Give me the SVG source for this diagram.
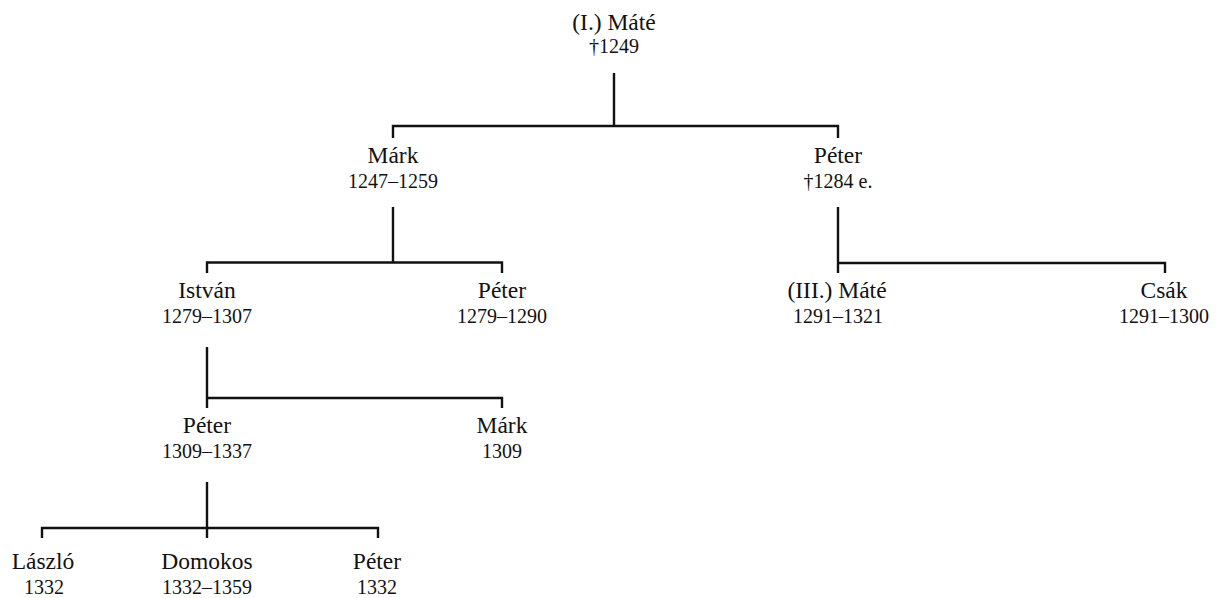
<svg xmlns="http://www.w3.org/2000/svg" width="1222" height="598" viewBox="0 0 1222 598">
<style>
text{fill:#111;text-anchor:middle;font-family:"Liberation Serif","Times New Roman",serif}
.n{font-size:23.5px}
.d{font-size:20px}
.c{fill:none;stroke:#111;stroke-width:2.4;stroke-linecap:butt}
</style>
<rect width="1222" height="598" fill="#fff"/>
<g id="connectors" class="c">
<path d="M614 73V126M393 138V126H838V138"/>
<path d="M393 207V262.5M207 273V262.5H502V273"/>
<path d="M838 207V273M838 263H1165V273"/>
<path d="M207 347V408M207 398H502V408"/>
<path d="M207 482V538M42 538V528H378V538"/>
</g>
<g id="mate1"><text class="n" x="614" y="30">(I.) Máté</text><text class="d" x="614" y="52.5">†1249</text></g>
<g id="mark1"><text class="n" x="393" y="163">Márk</text><text class="d" x="393" y="188">1247–1259</text></g>
<g id="peter1"><text class="n" x="838" y="163">Péter</text><text class="d" x="838" y="188">†1284 e.</text></g>
<g id="istvan"><text class="n" x="207" y="298">István</text><text class="d" x="207" y="323">1279–1307</text></g>
<g id="peter2"><text class="n" x="502" y="298">Péter</text><text class="d" x="502" y="323">1279–1290</text></g>
<g id="mate3"><text class="n" x="837" y="298">(III.) Máté</text><text class="d" x="838" y="323">1291–1321</text></g>
<g id="csak"><text class="n" x="1164" y="298">Csák</text><text class="d" x="1164" y="323">1291–1300</text></g>
<g id="peter3"><text class="n" x="207" y="433">Péter</text><text class="d" x="207" y="458">1309–1337</text></g>
<g id="mark2"><text class="n" x="502" y="433">Márk</text><text class="d" x="502" y="458">1309</text></g>
<g id="laszlo"><text class="n" x="43" y="569">László</text><text class="d" x="44" y="594">1332</text></g>
<g id="domokos"><text class="n" x="207" y="569">Domokos</text><text class="d" x="207" y="594">1332–1359</text></g>
<g id="peter4"><text class="n" x="377" y="569">Péter</text><text class="d" x="377" y="594">1332</text></g>
</svg>
